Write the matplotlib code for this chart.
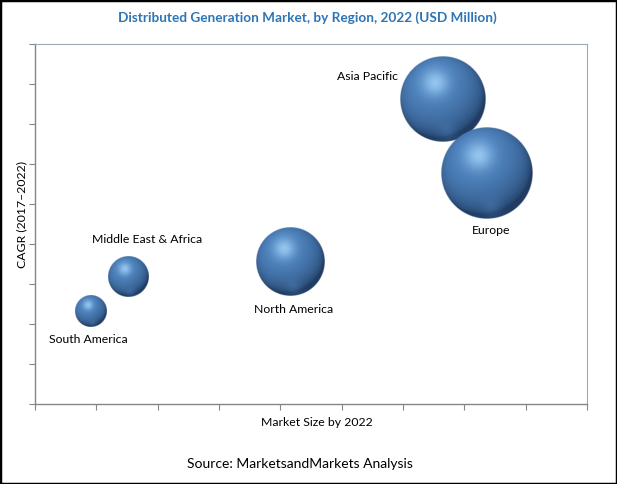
import numpy as np
import matplotlib.pyplot as plt
from matplotlib.patches import Rectangle

regions = ["Asia Pacific", "Europe", "North America", "Middle East & Africa", "South America"]
market_size = [6.66, 7.37, 4.16, 1.52, 0.91]     # x position (relative)
cagr = [7.62, 5.78, 3.56, 3.18, 2.32]            # y position (relative)
bubble_radius = [43, 46, 34.5, 20.5, 16]         # bubble radius, px
label_pos = [(-76, 23), (4, -58), (3, -48), (19, 37), (-3, -28)]  # label offsets, px

fig = plt.figure(figsize=(6.17, 4.84), dpi=100)
W, H = 617, 484
ax = fig.add_axes([35 / W, 1 - 404 / H, 552 / W, 360 / H])
ax.set_xlim(0, 9)
ax.set_ylim(0, 9)
px_x = 552 / 9
px_y = 360 / 9


def sphere(n=240):
    v, u = np.mgrid[-1:1:n * 1j, -1:1:n * 1j]
    v = -v
    d = np.sqrt(u ** 2 + v ** 2)
    z = np.sqrt(np.clip(1 - d ** 2, 0, 1))
    L = np.array([-0.25, 0.45, 0.86])
    L = L / np.linalg.norm(L)
    diff = np.clip(u * L[0] + v * L[1] + z * L[2], 0, 1)
    dark = np.array([32, 60, 98]) / 255
    base = np.array([80, 134, 194]) / 255
    light = np.array([165, 212, 250]) / 255
    col = dark + (base - dark) * diff[..., None] ** 0.7
    spec = np.exp(-((u + 0.18) ** 2 + (v - 0.38) ** 2) / 0.09)
    col = col + (light - col) * spec[..., None] * 0.8
    refl = np.exp(-((u - 0.1) ** 2 + (v + 0.75) ** 2) / 0.05) * 0.35
    col = col + (base - col) * refl[..., None]
    alpha = np.clip((1 - d) * n / 2, 0, 1)
    return np.dstack([np.clip(col, 0, 1), alpha])


img = sphere()
for x, y, r in zip(market_size, cagr, bubble_radius):
    rx, ry = r / px_x, r / px_y
    ax.imshow(img, extent=(x - rx, x + rx, y - ry, y + ry), origin="upper",
              aspect="auto", interpolation="bilinear", zorder=3)

for name, x, y, (dx, dy) in zip(regions, market_size, cagr, label_pos):
    ax.annotate(name, (x, y), xytext=(dx * 0.72, dy * 0.72), textcoords="offset points",
                ha="center", va="center", fontsize=8.8, family="Lato", color="black")

ax.set_xlim(0, 9)
ax.set_ylim(0, 9)
ax.set_xticks(range(10))
ax.set_yticks(range(10))
ax.set_xticklabels([])
ax.set_yticklabels([])
ax.tick_params(direction="out", length=4, width=0.8, color="#868686")
for s in ["left", "bottom"]:
    ax.spines[s].set_color("#868686")
    ax.spines[s].set_linewidth(1.0)
for s in ["top", "right"]:
    ax.spines[s].set_color("#9aaabb")
    ax.spines[s].set_linewidth(0.8)

fig.text(307 / W, 1 - 18 / H, "Distributed Generation Market, by Region, 2022 (USD Million)",
         ha="center", va="center", fontsize=9.8, fontweight="bold", family="Lato", color="#2e75b6")
fig.text(317 / W, 1 - 422 / H, "Market Size by 2022", ha="center", va="center",
         fontsize=8.8, family="Lato", color="black")
fig.text(22 / W, 1 - 215 / H, "CAGR (2017\u20132022)", ha="center", va="center",
         rotation=90, fontsize=8.8, family="Lato", color="black")
fig.text(300 / W, 1 - 464 / H, "Source: MarketsandMarkets Analysis", ha="center", va="center",
         fontsize=10, family="Lato", color="black")

fig.patches.append(Rectangle((0, 0), 1, 1, transform=fig.transFigure, fill=False,
                             edgecolor="black", linewidth=2.5))

fig.savefig("out.png", dpi=100)
